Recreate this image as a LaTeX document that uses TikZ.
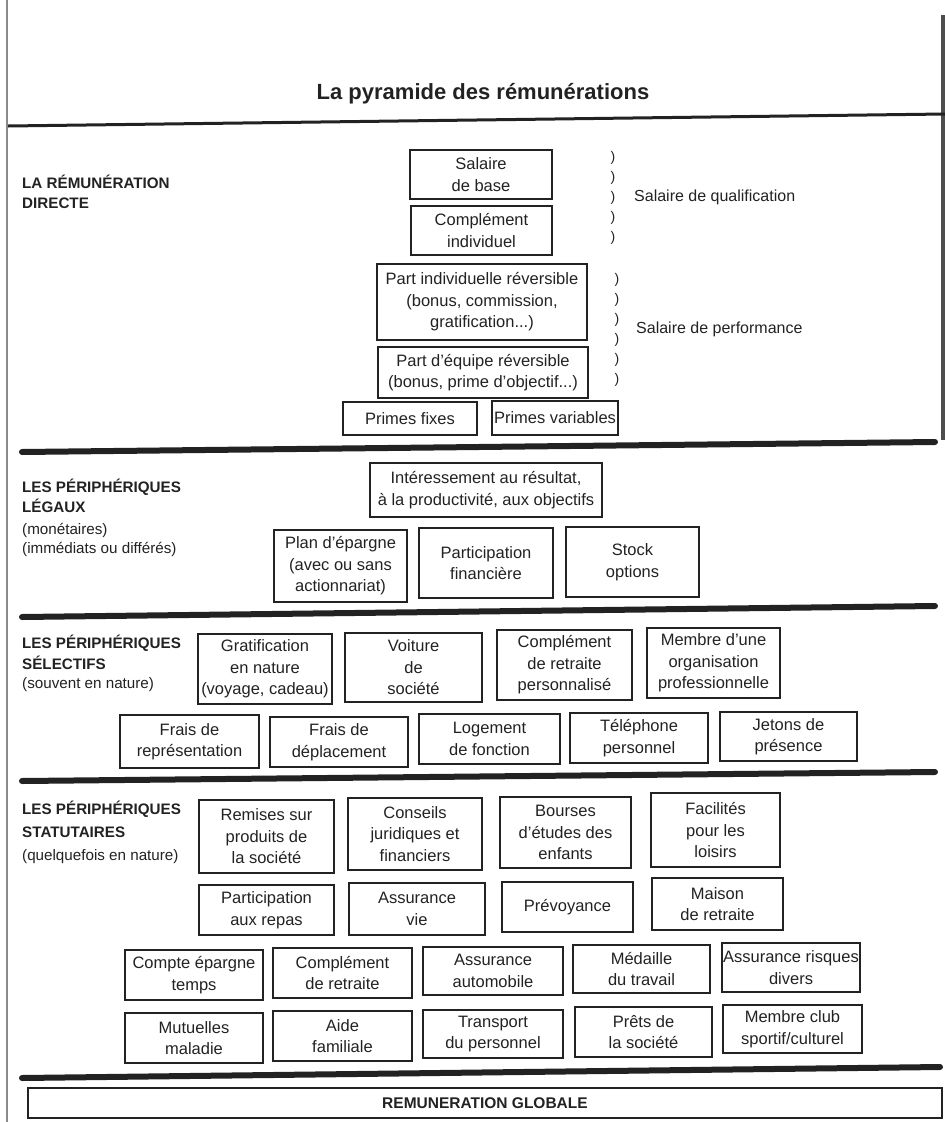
\documentclass[tikz,border=0pt]{standalone}
\usepackage{fontspec}
\setmainfont{Liberation Sans}
\definecolor{ink}{HTML}{222222}
\definecolor{edge}{HTML}{8A8A8A}

% box given by its corners: name, x1, y1, x2, y2, text
\newcommand{\pbox}[6]{%
  \node[pbox, minimum width={(#4)-(#2)}, minimum height={(#5)-(#3)}]
    (#1) at ({((#2)+(#4))/2},{((#3)+(#5))/2}) {#6};}

\tikzset{
  pbox/.style={draw=ink, line width=1.5pt, inner sep=0pt, align=center,
    text=ink, font=\fontsize{16.5}{21.5}\selectfont},
  rule/.style={draw=ink, line width=6pt, line cap=round},
  seclabel/.style={anchor=base west, inner sep=0pt, text=ink,
    font=\bfseries\fontsize{15.2}{17}\selectfont},
  secnote/.style={anchor=base west, inner sep=0pt, text=ink,
    font=\fontsize{15.2}{17}\selectfont},
  side/.style={anchor=base west, inner sep=0pt, text=ink,
    font=\fontsize{16}{19}\selectfont},
  paren/.style={inner sep=0pt, text=ink, font=\fontsize{14}{16}\selectfont},
}

\begin{document}
\begin{tikzpicture}[x=1pt, y=-1pt]
\useasboundingbox (0,0) rectangle (945,1122);

% page edges
\draw[edge, line width=1.2pt] (7,0) -- (7,1122);
\draw[ink!80, line width=4pt] (943,15) -- (943,440);

% title and rules
\node[text=ink, font=\bfseries\fontsize{22}{24}\selectfont] (title) at (483,94)
  {La pyramide des rémunérations};
\coordinate (r1a) at (8,126);   \coordinate (r1b) at (945,114);
\coordinate (r2a) at (22,452);  \coordinate (r2b) at (935,442);
\coordinate (r3a) at (22,617);  \coordinate (r3b) at (935,606);
\coordinate (r4a) at (22,781);  \coordinate (r4b) at (935,772);
\coordinate (r5a) at (22,1078); \coordinate (r5b) at (940,1067);
\draw[draw=ink, line width=3pt] (r1a) -- (r1b);
\draw[rule] (r2a) -- (r2b);
\draw[rule] (r3a) -- (r3b);
\draw[rule] (r4a) -- (r4b);
\draw[rule] (r5a) -- (r5b);

% ---- la rémunération directe
\node[seclabel] (l1a) at (22,188) {LA RÉMUNÉRATION};
\node[seclabel] (l1b) at (22,208) {DIRECTE};

\pbox{salaire}{410}{150}{552}{199}{Salaire\\de base}
\pbox{complind}{411}{206}{552}{255}{Complément\\individuel}
\pbox{partind}{377}{264}{587}{340}{Part individuelle réversible\\(bonus, commission,\\gratification...)}
\pbox{parteq}{378}{347}{588}{398}{Part d'équipe réversible\\(bonus, prime d'objectif...)}
\pbox{pfixes}{343}{402}{477}{435}{Primes fixes}
\pbox{pvar}{492}{401}{618}{435}{Primes variables}

\foreach \i/\y in {1/158,2/178,3/198,4/218,5/238}
  \node[paren] (qa\i) at (613,\y) {)};
\foreach \i/\y in {1/280,2/300,3/320,4/340,5/360,6/380}
  \node[paren] (qb\i) at (617,\y) {)};
\node[side] (qual) at (634,201) {Salaire de qualification};
\node[side] (perf) at (636,333) {Salaire de performance};

% ---- les périphériques légaux
\node[seclabel] (l2a) at (22,492) {LES PÉRIPHÉRIQUES};
\node[seclabel] (l2b) at (22,512) {LÉGAUX};
\node[secnote]  (l2c) at (22,534) {(monétaires)};
\node[secnote]  (l2d) at (22,553) {(immédiats ou différés)};

\pbox{interes}{370}{463}{602}{517}{Intéressement au résultat,\\à la productivité, aux objectifs}
\pbox{plan}{274}{530}{407}{602}{Plan d'épargne\\(avec ou sans\\actionnariat)}
\pbox{partfin}{419}{528}{553}{598}{Participation\\financière}
\pbox{stock}{566}{527}{699}{597}{Stock\\options}

% ---- les périphériques sélectifs
\node[seclabel] (l3a) at (22,648) {LES PÉRIPHÉRIQUES};
\node[seclabel] (l3b) at (22,669) {SÉLECTIFS};
\node[secnote]  (l3c) at (22,688) {(souvent en nature)};

\pbox{grat}{198}{634}{332}{704}{Gratification\\en nature\\(voyage, cadeau)}
\pbox{voiture}{345}{633}{482}{702}{Voiture\\de\\société}
\pbox{compret}{497}{630}{632}{700}{Complément\\de retraite\\personnalisé}
\pbox{membre}{647}{628}{780}{698}{Membre d'une\\organisation\\professionnelle}
\pbox{fraisrep}{120}{715}{259}{768}{Frais de\\représentation}
\pbox{fraisdep}{270}{717}{408}{767}{Frais de\\déplacement}
\pbox{logement}{419}{714}{560}{764}{Logement\\de fonction}
\pbox{telephone}{570}{713}{708}{763}{Téléphone\\personnel}
\pbox{jetons}{720}{712}{857}{761}{Jetons de\\présence}

% ---- les périphériques statutaires
\node[seclabel] (l4a) at (22,814) {LES PÉRIPHÉRIQUES};
\node[seclabel] (l4b) at (22,837) {STATUTAIRES};
\node[secnote]  (l4c) at (22,860) {(quelquefois en nature)};

\pbox{remises}{199}{800}{334}{873}{Remises sur\\produits de\\la société}
\pbox{conseils}{348}{798}{482}{870}{Conseils\\juridiques et\\financiers}
\pbox{bourses}{500}{797}{631}{868}{Bourses\\d'études des\\enfants}
\pbox{facilites}{651}{793}{780}{867}{Facilités\\pour les\\loisirs}

\pbox{repas}{199}{885}{334}{935}{Participation\\aux repas}
\pbox{assvie}{349}{883}{485}{935}{Assurance\\vie}
\pbox{prevoyance}{502}{882}{633}{932}{Prévoyance}
\pbox{maison}{652}{878}{783}{930}{Maison\\de retraite}

\pbox{cet}{125}{950}{263}{1000}{Compte épargne\\temps}
\pbox{compret2}{273}{948}{412}{998}{Complément\\de retraite}
\pbox{assauto}{423}{947}{563}{995}{Assurance\\automobile}
\pbox{medaille}{573}{945}{710}{993}{Médaille\\du travail}
\pbox{assrisq}{722}{943}{860}{992}{Assurance risques\\divers}

\pbox{mutuelles}{125}{1013}{263}{1063}{Mutuelles\\maladie}
\pbox{aide}{273}{1011}{412}{1061}{Aide\\familiale}
\pbox{transport}{423}{1010}{563}{1058}{Transport\\du personnel}
\pbox{prets}{575}{1007}{712}{1057}{Prêts de\\la société}
\pbox{club}{723}{1005}{862}{1053}{Membre club\\sportif/culturel}

% ---- total
\node[draw=ink, line width=1.5pt, minimum width=914, minimum height=30,
  inner sep=0pt, text=ink, font=\bfseries\fontsize{15.5}{18}\selectfont]
  (globale) at (485,1103) {REMUNERATION GLOBALE};
\end{tikzpicture}
\end{document}
